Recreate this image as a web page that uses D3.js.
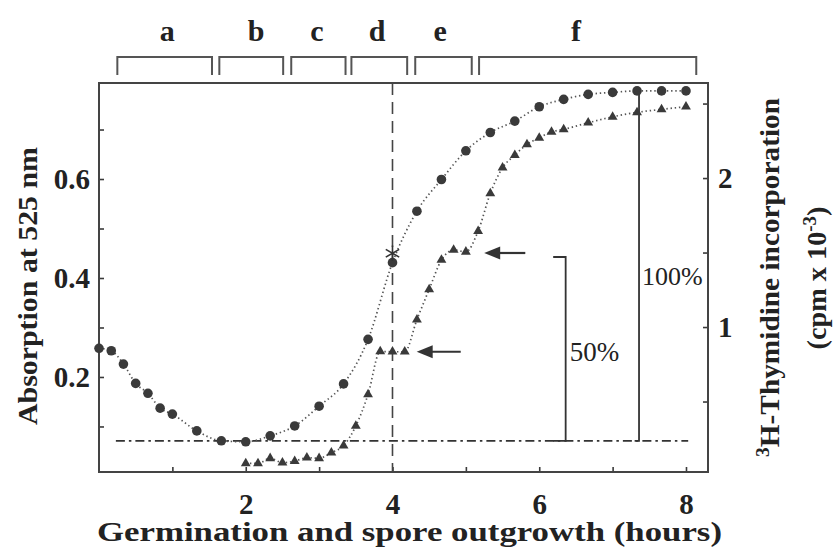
<!DOCTYPE html>
<html>
<head>
<meta charset="utf-8">
<script src="https://cdn.jsdelivr.net/npm/d3@7"></script>
<style>
    html, body { margin: 0; padding: 0; background: #fff; }
    svg { display: block; }
</style>
</head>
<body>
<div id="chart"></div>
<script>
// --- 1. Data ---
const absHours = [0, 0.167, 0.333, 0.5, 0.667, 0.833, 1.0, 1.333, 1.667, 2.0, 2.333, 2.667, 3.0, 3.333, 3.667,
    4.0, 4.333, 4.667, 5.0, 5.333, 5.667, 6.0, 6.333, 6.667, 7.0, 7.333, 7.667, 8.0];
const absValues = [0.258, 0.253, 0.226, 0.187, 0.167, 0.137, 0.125, 0.091, 0.071, 0.069, 0.081, 0.101, 0.141, 0.186, 0.276,
    0.431, 0.535, 0.599, 0.657, 0.694, 0.717, 0.746, 0.761, 0.771, 0.775, 0.778, 0.778, 0.778];

const thyHours = [2.0, 2.167, 2.333, 2.5, 2.667, 2.833, 3.0, 3.167, 3.333, 3.5, 3.667, 3.833, 4.0, 4.167, 4.333,
    4.5, 4.667, 4.833, 5.0, 5.167, 5.333, 5.5, 5.667, 5.833, 6.0, 6.167, 6.333, 6.667, 7.0, 7.333, 7.667, 8.0];
const thyValues = [0.085, 0.085, 0.119, 0.09, 0.10, 0.123, 0.119, 0.157, 0.204, 0.336, 0.548, 0.836, 0.834, 0.834, 1.05,
    1.253, 1.45, 1.517, 1.505, 1.644, 1.897, 2.069, 2.154, 2.226, 2.27, 2.31, 2.327, 2.371, 2.411, 2.441, 2.461, 2.479];

// phases of germination / outgrowth (top brackets)
const phaseNames = ["a", "b", "c", "d", "e", "f"];
const phaseStart = [0.25, 1.64, 2.62, 3.44, 4.31, 5.18];
const phaseEnd = [1.54, 2.51, 3.36, 4.2, 5.08, 8.14];
const phaseLabelAt = [0.93, 2.14, 2.97, 3.79, 4.65, 6.5];

// ticks
const xTicks = [1, 2, 3, 4, 5, 6, 7, 8];
const xTickLabels = [2, 4, 6, 8];
const leftTicks = [0.1, 0.2, 0.3, 0.4, 0.5, 0.6, 0.7];
const leftTickLabels = [0.2, 0.4, 0.6];
const rightTicks = [0.5, 1, 1.5, 2, 2.5];
const rightTickLabels = [1, 2];

// annotations
const baselineLevel = 0.071;          // dash-dot line, absorption units
const baselineFrom = 0.23, baselineTo = 8.03;
const markHour = 4.0;                 // dashed vertical line
const asteriskValue = 0.45;           // absorption units
const arrowLevels = [0.834, 1.497];   // thymidine units
const arrowTips = [4.33, 5.25];
const arrowTails = [4.93, 5.81];
const halfBracket = { x: 6.36, left: 6.19, top: 1.47 };     // top in thymidine units
const fullBracket = { x: 7.36, left: 7.30, top: 0.778 };    // top in absorption units

// --- 2. Layout ---
const W = 835, H = 558;
const margin = { top: 83, right: 127, bottom: 86, left: 99 };
const ink = "#3a3a3a";
const FONT = '"Liberation Serif", "Times New Roman", serif';

const svg = d3.select("#chart").append("svg")
    .attr("width", W)
    .attr("height", H);

const x = d3.scaleLinear().domain([0, 8.3]).range([margin.left, W - margin.right]);
const yL = d3.scaleLinear().domain([0.008, 0.794]).range([H - margin.bottom, margin.top]);
const yR = d3.scaleLinear().domain([0.027, 2.638]).range([H - margin.bottom, margin.top]);

const label = (sel, size, bold) => sel
    .style("font-family", FONT)
    .style("font-weight", bold ? "bold" : "normal")
    .style("font-size", size + "px")
    .attr("fill", "#222");

// --- 3. Axes ---
const fmt = (labels, f) => d => labels.includes(d) ? f(d) : "";

const gx = svg.append("g")
    .attr("transform", `translate(0,${H - margin.bottom})`)
    .call(d3.axisBottom(x).tickValues(xTicks).tickSize(-5).tickPadding(21)
        .tickFormat(fmt(xTickLabels, d3.format("d"))));

const gl = svg.append("g")
    .attr("transform", `translate(${margin.left},0)`)
    .call(d3.axisLeft(yL).tickValues(leftTicks).tickSize(-5).tickPadding(9)
        .tickFormat(fmt(leftTickLabels, d3.format(".1f"))));

const gr = svg.append("g")
    .attr("transform", `translate(${W - margin.right},0)`)
    .call(d3.axisRight(yR).tickValues(rightTicks).tickSize(-5).tickPadding(10)
        .tickFormat(fmt(rightTickLabels, d3.format("d"))));

[gx, gl, gr].forEach(g => {
    g.select(".domain").remove();
    g.selectAll(".tick line").attr("stroke", ink).attr("stroke-width", 1.6);
    g.selectAll(".tick text").call(label, 29, true);
});

// frame
svg.append("rect")
    .attr("x", margin.left)
    .attr("y", margin.top)
    .attr("width", W - margin.left - margin.right)
    .attr("height", H - margin.top - margin.bottom)
    .attr("fill", "none")
    .attr("stroke", "#444")
    .attr("stroke-width", 2);

// axis titles
svg.append("text")
    .attr("x", 409.5).attr("y", 541)
    .attr("text-anchor", "middle")
    .attr("textLength", 625).attr("lengthAdjust", "spacingAndGlyphs")
    .call(label, 28, true)
    .text("Germination and spore outgrowth (hours)");

svg.append("text")
    .attr("transform", "translate(37,286) rotate(-90)")
    .attr("text-anchor", "middle")
    .attr("textLength", 278).attr("lengthAdjust", "spacingAndGlyphs")
    .call(label, 27, true)
    .text("Absorption at 525 nm");

const rt1 = svg.append("text")
    .attr("transform", "translate(779,277.5) rotate(-90)")
    .attr("text-anchor", "middle")
    .attr("textLength", 359).attr("lengthAdjust", "spacingAndGlyphs")
    .call(label, 27, true);
rt1.append("tspan").attr("dy", -10).style("font-size", "18px").text("3");
rt1.append("tspan").attr("dy", 10).text("H-Thymidine incorporation");

const rt2 = svg.append("text")
    .attr("transform", "translate(826,278) rotate(-90)")
    .attr("text-anchor", "middle")
    .attr("textLength", 143).attr("lengthAdjust", "spacingAndGlyphs")
    .call(label, 27, true);
rt2.append("tspan").text("(cpm x 10");
rt2.append("tspan").attr("dy", -10).style("font-size", "18px").text("-3");
rt2.append("tspan").attr("dy", 10).text(")");

// --- 4. Phase brackets ---
const phases = phaseNames.map((name, i) => ({ name, start: phaseStart[i], end: phaseEnd[i], at: phaseLabelAt[i] }));

svg.selectAll(".phase")
    .data(phases)
    .enter().append("path")
    .attr("class", "phase")
    .attr("d", d => `M${x(d.start)},75V57H${x(d.end)}V75`)
    .attr("fill", "none")
    .attr("stroke", "#555")
    .attr("stroke-width", 2);

svg.selectAll(".phase-label")
    .data(phases)
    .enter().append("text")
    .attr("class", "phase-label")
    .attr("x", d => x(d.at))
    .attr("y", 41)
    .attr("text-anchor", "middle")
    .call(label, 30, true)
    .text(d => d.name);

// --- 5. Reference lines ---
svg.append("line")
    .attr("x1", x(markHour)).attr("x2", x(markHour))
    .attr("y1", margin.top).attr("y2", H - margin.bottom)
    .attr("stroke", "#444").attr("stroke-width", 1.6)
    .attr("stroke-dasharray", "12,7");

svg.append("line")
    .attr("x1", x(baselineFrom)).attr("x2", x(baselineTo))
    .attr("y1", yL(baselineLevel)).attr("y2", yL(baselineLevel))
    .attr("stroke", "#333").attr("stroke-width", 1.8)
    .attr("stroke-dasharray", "9,4,2.5,4");

// 50% and 100% brackets
svg.append("path")
    .attr("d", `M${x(halfBracket.left)},${yR(halfBracket.top)}H${x(halfBracket.x)}V${yL(baselineLevel)}H${x(halfBracket.left)}`)
    .attr("fill", "none").attr("stroke", "#333").attr("stroke-width", 1.8);
svg.append("path")
    .attr("d", `M${x(fullBracket.x)},${yL(fullBracket.top)}V${yL(baselineLevel)}H${x(fullBracket.left)}`)
    .attr("fill", "none").attr("stroke", "#333").attr("stroke-width", 1.8);

svg.append("text")
    .attr("x", x(halfBracket.x) + 4).attr("y", 361)
    .call(label, 27, false)
    .text("50%");
svg.append("text")
    .attr("x", x(fullBracket.x) + 3).attr("y", 285)
    .call(label, 26, false)
    .text("100%");

// arrows
arrowLevels.forEach((lvl, i) => {
    const yy = yR(lvl), tip = x(arrowTips[i]), tail = x(arrowTails[i]);
    svg.append("line")
        .attr("x1", tip + 10).attr("x2", tail)
        .attr("y1", yy).attr("y2", yy)
        .attr("stroke", "#333").attr("stroke-width", 2.2);
    svg.append("path")
        .attr("d", `M${tip},${yy}L${tip + 16},${yy - 6.5}L${tip + 16},${yy + 6.5}Z`)
        .attr("fill", "#333");
});

// --- 6. Series ---
const absData = absHours.map((h, i) => ({ h, v: absValues[i] }));
const thyData = thyHours.map((h, i) => ({ h, v: thyValues[i] }));

const absLine = d3.line().x(d => x(d.h)).y(d => yL(d.v)).curve(d3.curveMonotoneX);
const thyLine = d3.line().x(d => x(d.h)).y(d => yR(d.v)).curve(d3.curveMonotoneX);

[[absData, absLine], [thyData, thyLine]].forEach(([data, gen]) => {
    svg.append("path")
        .datum(data)
        .attr("d", gen)
        .attr("fill", "none")
        .attr("stroke", "#555")
        .attr("stroke-width", 1.7)
        .attr("stroke-dasharray", "1.4,2.8");
});

svg.selectAll(".abs-pt")
    .data(absData)
    .enter().append("circle")
    .attr("class", "abs-pt")
    .attr("cx", d => x(d.h))
    .attr("cy", d => yL(d.v))
    .attr("r", 4.8)
    .attr("fill", ink);

svg.selectAll(".thy-pt")
    .data(thyData)
    .enter().append("path")
    .attr("class", "thy-pt")
    .attr("transform", d => `translate(${x(d.h)},${yR(d.v)})`)
    .attr("d", d3.symbol(d3.symbolTriangle, 42))
    .attr("fill", ink);

// asterisk at the 4 h mark
svg.append("path")
    .attr("transform", `translate(${x(markHour)},${yL(asteriskValue)})`)
    .attr("d", d3.symbol(d3.symbolAsterisk, 170))
    .attr("fill", "none")
    .attr("stroke", "#333")
    .attr("stroke-width", 1.6);
</script>
</body>
</html>
